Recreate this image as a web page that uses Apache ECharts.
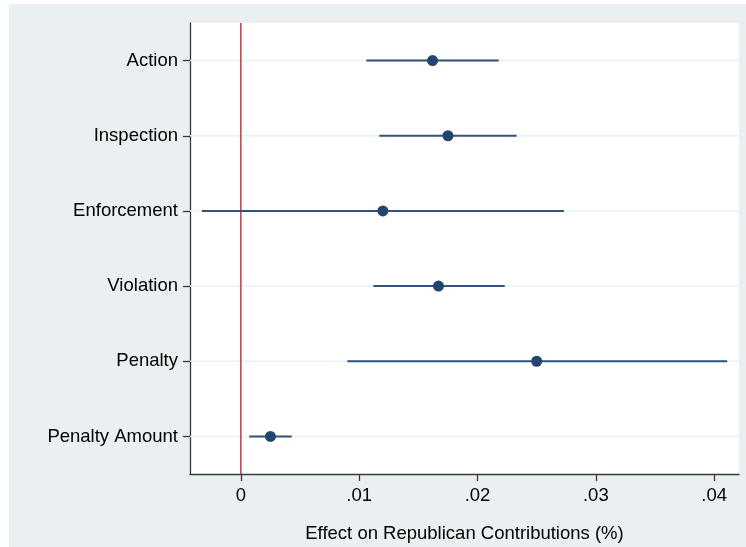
<!DOCTYPE html>
<html>
<head>
<meta charset="utf-8">
<script src="https://cdn.jsdelivr.net/npm/echarts@6/dist/echarts.min.js"></script>
<style>
html,body{margin:0;padding:0;background:#fff;}
#chart{width:746px;height:547px;}
</style>
</head>
<body>
<div id="chart"></div>
<script>
var categories = ['Action', 'Inspection', 'Enforcement', 'Violation', 'Penalty', 'Penalty Amount'];
var estimates = [0.0162, 0.0175, 0.0120, 0.0167, 0.0250, 0.0025];
var ciLower = [0.0106, 0.0117, -0.0033, 0.0112, 0.0090, 0.0007];
var ciUpper = [0.0218, 0.0233, 0.0273, 0.0223, 0.0411, 0.0043];
var xTicks = [0, 0.01, 0.02, 0.03, 0.04];
var xTitle = 'Effect on Republican Contributions (%)';

var FONT = '"Liberation Sans", Arial, Helvetica, sans-serif';
var FS = 18.5;
var NAVY = '#234670';

var chart = echarts.init(document.getElementById('chart'), null, {renderer: 'canvas'});

var ciData = categories.map(function (c, i) { return [ciLower[i], ciUpper[i], c]; });
var ptData = categories.map(function (c, i) { return [estimates[i], c]; });

function fmt(v) {
  if (Math.abs(v) < 1e-12) return '0';
  return String(+v.toFixed(2)).replace(/^0\./, '.');
}

chart.setOption({
  animation: false,
  backgroundColor: '#ffffff',
  graphic: [{
    type: 'rect', z: -10, silent: true,
    shape: {x: 9, y: 4, width: 737, height: 543},
    style: {fill: '#eaeff2'}
  }],
  grid: {
    left: 190, top: 23, right: 7, bottom: 73,
    containLabel: false,
    outerBoundsMode: 'none',
    show: true, backgroundColor: '#ffffff', borderWidth: 0
  },
  xAxis: {
    type: 'value',
    min: -0.0043, max: 0.0421,
    name: xTitle,
    nameLocation: 'middle',
    nameGap: 50,
    nameTextStyle: {fontFamily: FONT, fontSize: FS, color: '#000'},
    axisLine: {show: true, onZero: false, lineStyle: {color: '#3a3a3a', width: 1.3}},
    axisTick: {show: true, length: 7, customValues: xTicks, lineStyle: {color: '#3a3a3a', width: 1.3}},
    axisLabel: {customValues: xTicks, formatter: fmt, margin: 12, fontFamily: FONT, fontSize: FS, color: '#000'},
    splitLine: {show: false}
  },
  yAxis: {
    type: 'category',
    data: categories,
    inverse: true,
    boundaryGap: true,
    axisLine: {show: true, onZero: false, lineStyle: {color: '#3a3a3a', width: 1.3}},
    axisTick: {show: true, length: 7, alignWithLabel: true, lineStyle: {color: '#3a3a3a', width: 1.3}},
    axisLabel: {margin: 12, fontFamily: FONT, fontSize: FS, color: '#000'},
    splitLine: {show: false}
  },
  series: [
    {
      type: 'custom',
      name: 'grid',
      data: categories.map(function (c) { return [c]; }),
      encode: {y: 0},
      z: 1,
      silent: true,
      renderItem: function (params, api) {
        var cs = params.coordSys;
        var y = api.coord([0, api.value(0)])[1];
        return {
          type: 'line',
          shape: {x1: cs.x, y1: y, x2: cs.x + cs.width, y2: y},
          style: {stroke: '#eaf0f3', lineWidth: 1.5}
        };
      }
    },
    {
      type: 'custom',
      name: 'zero',
      data: [[0]],
      encode: {x: 0},
      z: 2,
      silent: true,
      renderItem: function (params, api) {
        var cs = params.coordSys;
        var x = api.coord([api.value(0), categories[0]])[0];
        return {
          type: 'line',
          shape: {x1: x, y1: cs.y, x2: x, y2: cs.y + cs.height},
          style: {stroke: '#bf2a38', lineWidth: 1.4}
        };
      }
    },
    {
      type: 'custom',
      name: 'ci',
      data: ciData,
      encode: {x: [0, 1], y: 2},
      z: 3,
      renderItem: function (params, api) {
        var p1 = api.coord([api.value(0), api.value(2)]);
        var p2 = api.coord([api.value(1), api.value(2)]);
        return {
          type: 'line',
          shape: {x1: p1[0], y1: p1[1], x2: p2[0], y2: p2[1]},
          style: {stroke: '#31537b', lineWidth: 2}
        };
      }
    },
    {
      type: 'scatter',
      name: 'estimate',
      data: ptData,
      z: 4,
      symbol: 'circle',
      symbolSize: 11,
      itemStyle: {color: NAVY, opacity: 1}
    }
  ]
});
</script>
</body>
</html>
